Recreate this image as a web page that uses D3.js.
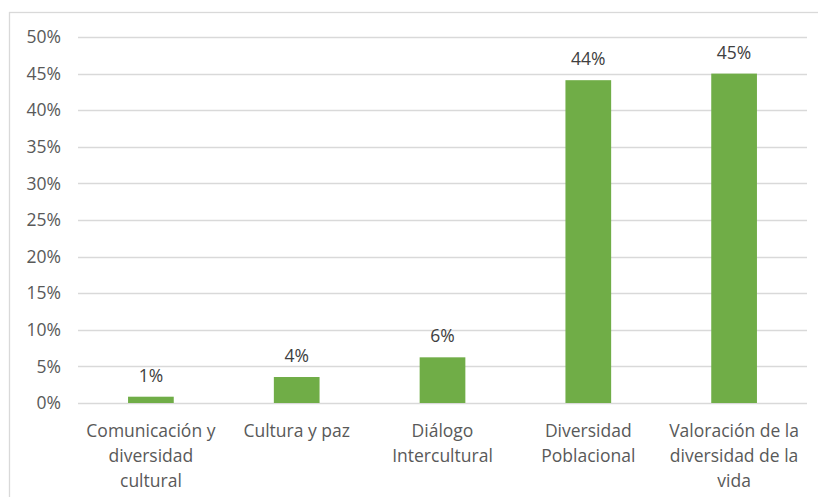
<!DOCTYPE html>
<html><head><meta charset="utf-8">
<script src="https://cdn.jsdelivr.net/npm/d3@7"></script>
<style>body{margin:0;background:#fff}svg{display:block}</style>
</head><body>
<svg id="c" width="818" height="497"></svg>
<script>
const categories = [["Comunicación y","diversidad","cultural"],["Cultura y paz"],["Diálogo","Intercultural"],["Diversidad","Poblacional"],["Valoración de la","diversidad de la","vida"]];
const values = [0.0086, 0.0355, 0.0624, 0.441, 0.450];
const labels = ["1%","4%","6%","44%","45%"];
const yTicks = [0,0.05,0.10,0.15,0.20,0.25,0.30,0.35,0.40,0.45,0.50];

const svg = d3.select("#c");
const font = "'Open Sans', sans-serif";
svg.append("rect").attr("x",9.5).attr("y",12.5).attr("width",830).attr("height",500)
  .attr("fill","#fff").attr("stroke","#d9d9d9").attr("stroke-width",1.3);

const x = d3.scaleBand().domain(d3.range(categories.length)).range([78,807]).paddingInner(0.6865).paddingOuter(0.34325);
const y = d3.scaleLinear().domain([0,0.5]).range([403,37]);

const g = svg.append("g");
g.selectAll("line.grid").data(yTicks).join("line")
  .attr("x1",78).attr("x2",807).attr("y1",d=>Math.round(y(d))+0.5).attr("y2",d=>Math.round(y(d))+0.5)
  .attr("stroke","#d9d9d9").attr("stroke-width",1.3);
g.selectAll("text.yt").data(yTicks).join("text")
  .attr("x",61).attr("y",d=>y(d)).attr("dy","0.35em").attr("text-anchor","end")
  .attr("font-family",font).attr("font-size",17.5).attr("fill","#595959")
  .text(d=>d3.format(".0%")(d));

g.selectAll("rect.bar").data(values).join("rect")
  .attr("x",(d,i)=>x(i)).attr("width",x.bandwidth())
  .attr("y",d=>y(d)).attr("height",d=>y(0)-y(d)).attr("fill","#70ad47");

g.selectAll("text.dl").data(values).join("text")
  .attr("x",(d,i)=>x(i)+x.bandwidth()/2).attr("y",d=>y(d)-15).attr("text-anchor","middle")
  .attr("font-family",font).attr("font-size",17.5).attr("fill","#404040")
  .text((d,i)=>labels[i]);

categories.forEach((lines,i)=>{
  const t = g.append("text").attr("text-anchor","middle").attr("font-family",font).attr("font-size",17.5).attr("fill","#595959");
  lines.forEach((l,j)=>{
    t.append("tspan").attr("x",x(i)+x.bandwidth()/2).attr("y",436.5+j*25).text(l);
  });
});
</script>
</body></html>
